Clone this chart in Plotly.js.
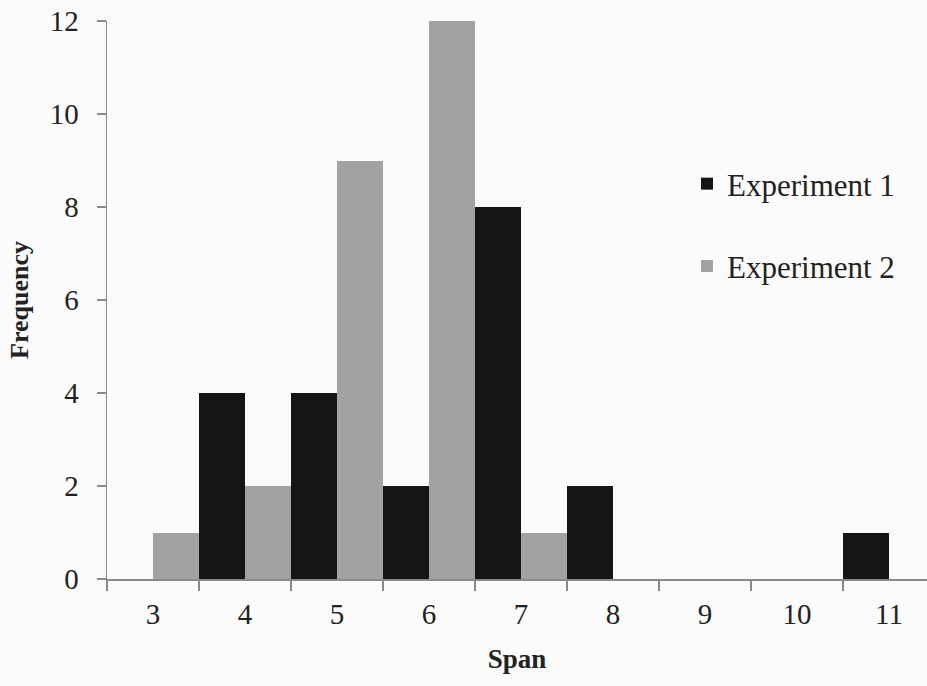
<!DOCTYPE html>
<html>
<head>
<meta charset="utf-8">
<script src="https://cdn.plot.ly/plotly-3.0.1.min.js"></script>
<style>html,body{margin:0;padding:0;background:#fbfbfb;}#chart{width:927px;height:686px;}</style>
</head>
<body>
<div id="chart"></div>
<script>
const spans = ["3", "4", "5", "6", "7", "8", "9", "10", "11"];
const experiment1 = [0, 4, 4, 2, 8, 2, 0, 0, 1];
const experiment2 = [1, 2, 9, 12, 1, 0, 0, 0, 0];
const yTicks = [0, 2, 4, 6, 8, 10, 12];

const serif = "Liberation Serif, Times New Roman, serif";

const traces = [
  {
    type: "bar", name: "Experiment 1", x: spans, y: experiment1,
    legendgroup: "e1",
    marker: {color: "#151515", line: {color: "#2a2a2a", width: 0}}
  },
  {
    type: "bar", name: "Experiment 2", x: spans, y: experiment2,
    legendgroup: "e2",
    marker: {color: "#a2a2a2", line: {color: "#8e8e8e", width: 0}}
  }
];

const layout = {
  width: 927, height: 686,
  paper_bgcolor: "#fbfbfb", plot_bgcolor: "#fbfbfb",
  margin: {l: 107, r: 0, t: 21, b: 107},
  font: {family: serif, size: 29, color: "#222"},
  barmode: "group", bargap: 0, bargroupgap: 0,
  showlegend: true,
  legend: {
    font: {family: serif, size: 31, color: "#222"},
    traceorder: "grouped", tracegroupgap: 39,
    bgcolor: "rgba(0,0,0,0)",
    xanchor: "left", yanchor: "top"
  },
  xaxis: {
    type: "category",
    range: [-0.5, -0.5 + 820 / 92],
    showline: true, linecolor: "#8a8a8a", linewidth: 1.5,
    ticks: "outside", tickson: "boundaries", ticklen: 10, tickcolor: "#8a8a8a", tickwidth: 1.5,
    showgrid: false, zeroline: false,
    tickfont: {family: serif, size: 29, color: "#222"},
    ticklabelstandoff: 9,
    title: {text: "Span", font: {family: serif, size: 27, color: "#222", weight: "bold"}, standoff: 20}
  },
  yaxis: {
    range: [0, 12], tickvals: yTicks,
    showline: true, linecolor: "#8a8a8a", linewidth: 1.5,
    ticks: "outside", ticklen: 9, tickcolor: "#8a8a8a", tickwidth: 1.5,
    showgrid: false, zeroline: false,
    tickfont: {family: serif, size: 29, color: "#222"},
    ticklabelstandoff: 12,
    title: {text: "Frequency", font: {family: serif, size: 26, color: "#222", weight: "bold"}, standoff: 13}
  }
};
layout.legend.x = (687 - 107) / 820;
layout.legend.y = 1 - (157 - 21) / 558;

Plotly.newPlot("chart", traces, layout, {displayModeBar: false, staticPlot: true});
</script>
</body>
</html>
